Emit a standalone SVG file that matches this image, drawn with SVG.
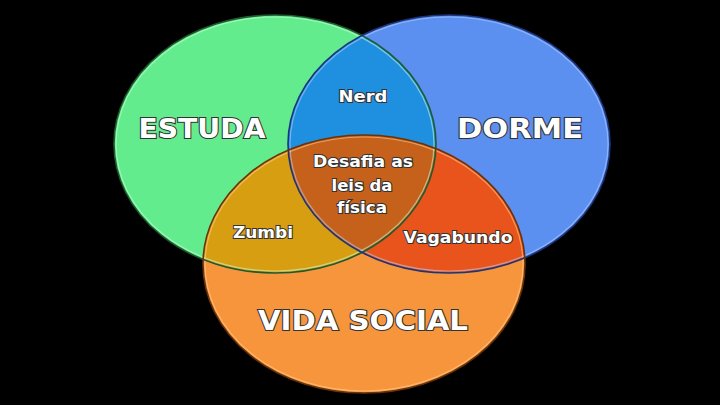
<svg xmlns="http://www.w3.org/2000/svg" width="720" height="405" viewBox="0 0 720 405">
<style>
.lbl{font-family:"DejaVu Sans","Open Sans",sans-serif;font-weight:bold;fill:#ffffff;stroke:#333333;stroke-width:2;paint-order:stroke;text-anchor:middle}
.big{font-size:26px}
.sm{font-size:16px}
.edge{fill:none;stroke-width:1.6}
.hl{fill:none;stroke-width:1.2;stroke-opacity:0.55}
</style>
<defs>
<clipPath id="cG"><ellipse cx="275" cy="144" rx="161" ry="129"/></clipPath>
<clipPath id="cB"><ellipse cx="449" cy="144" rx="161" ry="129"/></clipPath>
</defs>
<rect width="720" height="405" fill="#000"/>
<g id="estuda">
<ellipse cx="275" cy="144" rx="161" ry="129" fill="#63ec8d"/>
</g>
<g id="dorme">
<ellipse cx="449" cy="144" rx="161" ry="129" fill="#5b8ff0"/>
</g>
<g id="vida-social">
<ellipse cx="364" cy="264" rx="161" ry="129" fill="#f7953c"/>
</g>
<g id="nerd">
<ellipse cx="449" cy="144" rx="161" ry="129" fill="#1f8fe0" clip-path="url(#cG)"/>
</g>
<g id="zumbi">
<ellipse cx="364" cy="264" rx="161" ry="129" fill="#d89e12" clip-path="url(#cG)"/>
</g>
<g id="vagabundo">
<ellipse cx="364" cy="264" rx="161" ry="129" fill="#e8541b" clip-path="url(#cB)"/>
</g>
<g id="desafia">
<g clip-path="url(#cG)">
<ellipse cx="364" cy="264" rx="161" ry="129" fill="#c6611b" clip-path="url(#cB)"/>
</g>
</g>
<g id="outlines">
<ellipse cx="275" cy="144" rx="159" ry="127" class="hl" stroke="#c8ffd8"/>
<ellipse cx="449" cy="144" rx="159" ry="127" class="hl" stroke="#b8d2ff"/>
<ellipse cx="364" cy="264" rx="159" ry="127" class="hl" stroke="#ffd19a"/>
<ellipse cx="275" cy="144" rx="161" ry="129" class="edge" stroke="#1f5a2e"/>
<ellipse cx="449" cy="144" rx="161" ry="129" class="edge" stroke="#1c3478"/>
<ellipse cx="364" cy="264" rx="161" ry="129" class="edge" stroke="#6a3208"/>
</g>
<g id="labels">
<text class="lbl big" x="202" y="138" textLength="127" lengthAdjust="spacingAndGlyphs">ESTUDA</text>
<text class="lbl big" x="520" y="138" textLength="126" lengthAdjust="spacingAndGlyphs">DORME</text>
<text class="lbl big" x="363" y="330" textLength="210" lengthAdjust="spacingAndGlyphs">VIDA SOCIAL</text>
<text class="lbl sm" x="363" y="102" textLength="49" lengthAdjust="spacingAndGlyphs">Nerd</text>
<text class="lbl sm" x="363" y="167" textLength="100" lengthAdjust="spacingAndGlyphs">Desafia as</text>
<text class="lbl sm" x="362" y="191" textLength="61" lengthAdjust="spacingAndGlyphs">leis da</text>
<text class="lbl sm" x="362" y="213" textLength="50" lengthAdjust="spacingAndGlyphs">física</text>
<text class="lbl sm" x="263" y="238" textLength="60" lengthAdjust="spacingAndGlyphs">Zumbi</text>
<text class="lbl sm" x="458" y="243" textLength="109" lengthAdjust="spacingAndGlyphs">Vagabundo</text>
</g>
</svg>
